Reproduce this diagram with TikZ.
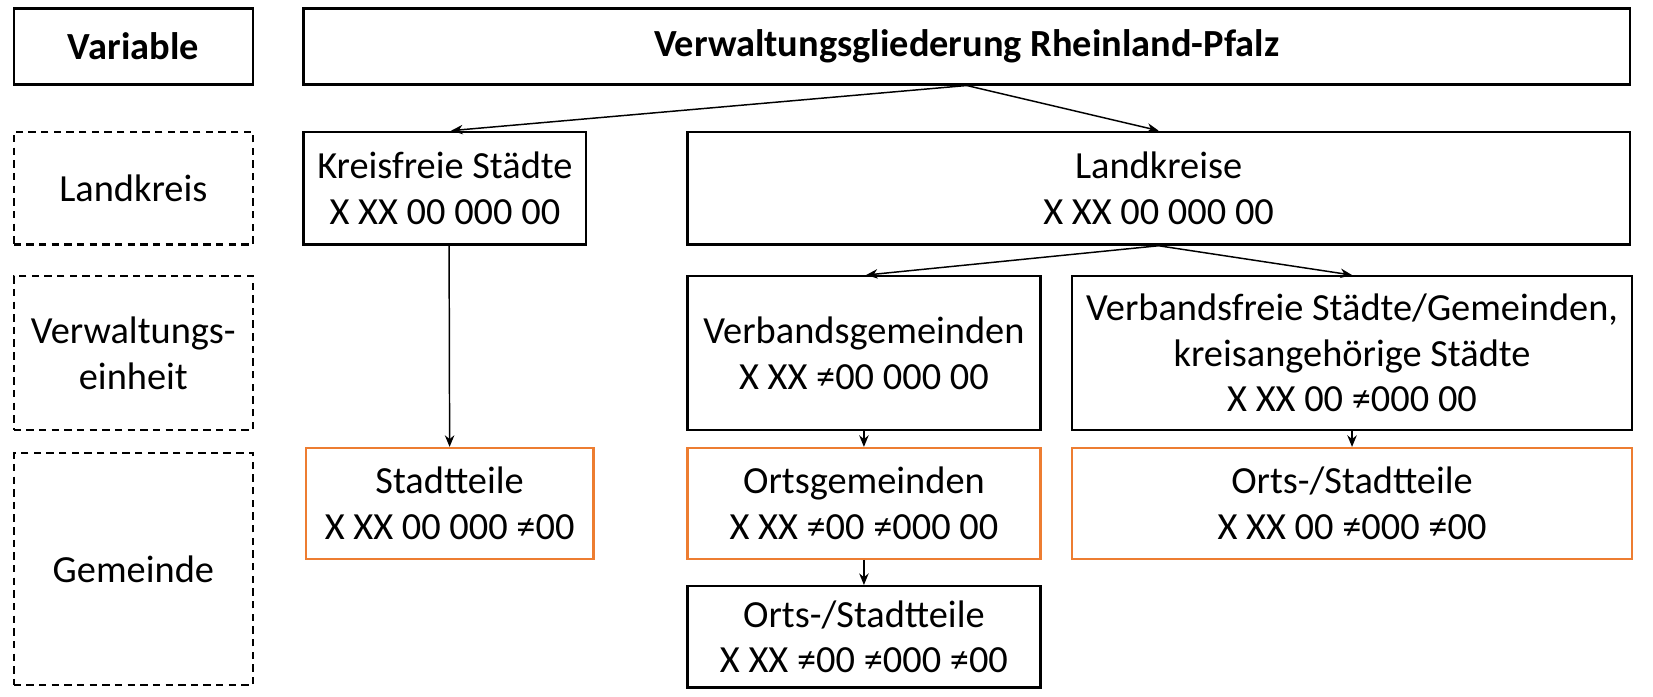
\documentclass[tikz,border=0pt]{standalone}
\usepackage{fontspec}
\setmainfont{Carlito}
\usetikzlibrary{arrows.meta}
\definecolor{boxorange}{HTML}{ED7D31}
\begin{document}
\begin{tikzpicture}[x=1pt,y=1pt,
  font=\fontsize{18.2pt}{21.6pt}\selectfont,
  base/.style={rectangle, draw=black, line width=1.1pt, inner sep=0pt, align=center},
  solidbox/.style={base},
  dashbox/.style={base, dash pattern=on 3.5pt off 2.5pt},
  orangebox/.style={base, draw=boxorange},
  conn/.style={line width=0.7pt, -{Stealth[length=5.5pt,width=4.5pt]}}
]
\useasboundingbox (0,0) rectangle (784,-330.5);
\fill[white] (0,0) rectangle (784,-330.5);

% left column
\node[solidbox, minimum width=113.5pt, minimum height=36pt] (var) at (63.25,-22) {\textbf{Variable}};
\node[dashbox, minimum width=113.5pt, minimum height=53.5pt] (lkv) at (63.25,-89.25) {Landkreis};
\node[dashbox, minimum width=113.5pt, minimum height=73pt] (vev) at (63.25,-167.5) {Verwaltungs-\\einheit};
\node[dashbox, minimum width=113.5pt, minimum height=110pt] (gev) at (63.25,-270) {Gemeinde};

% hierarchy
\node[solidbox, minimum width=629pt, minimum height=36pt] (title) at (458.5,-22) {\textbf{Verwaltungsgliederung Rheinland-Pfalz}};
\node[solidbox, minimum width=134pt, minimum height=53.5pt] (kf) at (211,-89.25) {Kreisfreie Städte\\X XX 00 000 00};
\node[solidbox, minimum width=447pt, minimum height=53.5pt] (lk) at (549.5,-89.25) {Landkreise\\X XX 00 000 00};
\node[solidbox, minimum width=167.5pt, minimum height=73pt] (vg) at (409.75,-167.5) {Verbandsgemeinden\\X XX ≠00 000 00};
\node[solidbox, minimum width=265.5pt, minimum height=73pt] (vf) at (641.25,-167.5) {Verbandsfreie Städte/Gemeinden,\\kreisangehörige Städte\\X XX 00 ≠000 00};
\node[orangebox, minimum width=136.5pt, minimum height=52.5pt] (st) at (213.25,-238.75) {Stadtteile\\X XX 00 000 ≠00};
\node[orangebox, minimum width=167.5pt, minimum height=52.5pt] (og) at (409.75,-238.75) {Ortsgemeinden\\X XX ≠00 ≠000 00};
\node[orangebox, minimum width=265.5pt, minimum height=52.5pt] (os) at (641.25,-238.75) {Orts-/Stadtteile\\X XX 00 ≠000 ≠00};
\node[solidbox, minimum width=167.5pt, minimum height=48pt] (ob) at (409.75,-302) {Orts-/Stadtteile\\X XX ≠00 ≠000 ≠00};

% connectors
\draw[conn] (title.south) -- ([xshift=3pt]kf.north);
\draw[conn] (title.south) -- (lk.north);
\draw[conn] (lk.south) -- ([xshift=1pt]vg.north);
\draw[conn] (lk.south) -- (vf.north);
\draw[conn] ([xshift=2pt]kf.south) -- (st.north);
\draw[conn] (vg.south) -- (og.north);
\draw[conn] (vf.south) -- (os.north);
\draw[conn] (og.south) -- (ob.north);
\end{tikzpicture}
\end{document}
